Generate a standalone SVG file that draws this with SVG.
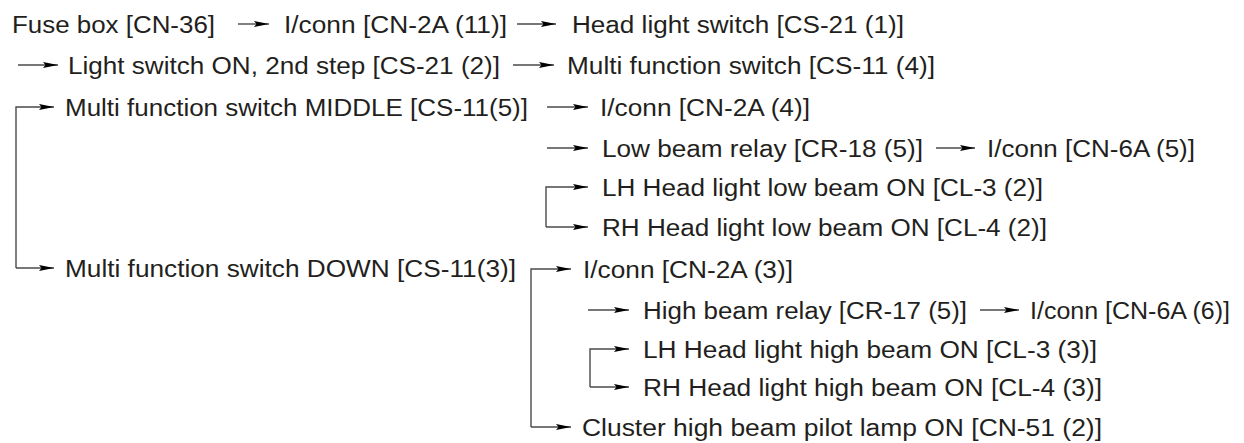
<svg xmlns="http://www.w3.org/2000/svg" width="1244" height="443" viewBox="0 0 1244 443">
<style>
text{font-family:"Liberation Sans",Arial,sans-serif;font-size:23.5px;fill:#231f20}
.c{fill:none;stroke:#4a4a4a;stroke-width:1.4}
</style>
<defs>
<marker id="ah" markerUnits="userSpaceOnUse" markerWidth="16" markerHeight="8" refX="15" refY="4" orient="auto">
<path d="M0,0.9 L15,4 L0,7.1 L2.5,4 z" fill="#000"/>
</marker>
</defs>
<rect width="1244" height="443" fill="#fff"/>
<g id="connectors">
<path class="c" d="M238,24 H269" marker-end="url(#ah)"/>
<path class="c" d="M517,24 H556" marker-end="url(#ah)"/>
<path class="c" d="M18,65 H58" marker-end="url(#ah)"/>
<path class="c" d="M513,65 H554" marker-end="url(#ah)"/>
<path class="c" d="M16,268 V107 H54" marker-end="url(#ah)"/>
<path class="c" d="M16,268 H54" marker-end="url(#ah)"/>
<path class="c" d="M547,107 H588" marker-end="url(#ah)"/>
<path class="c" d="M547,148 H588" marker-end="url(#ah)"/>
<path class="c" d="M936,148 H975" marker-end="url(#ah)"/>
<path class="c" d="M546,227 V187 H588" marker-end="url(#ah)"/>
<path class="c" d="M546,227 H588" marker-end="url(#ah)"/>
<path class="c" d="M531,427 V269 H571" marker-end="url(#ah)"/>
<path class="c" d="M531,427 H571" marker-end="url(#ah)"/>
<path class="c" d="M588,310 H629" marker-end="url(#ah)"/>
<path class="c" d="M980,310 H1019" marker-end="url(#ah)"/>
<path class="c" d="M590,387 V349 H629" marker-end="url(#ah)"/>
<path class="c" d="M590,387 H629" marker-end="url(#ah)"/>
</g>
<g id="n1"><text x="12" y="33" textLength="203" lengthAdjust="spacingAndGlyphs">Fuse box [CN-36]</text></g>
<g id="n2"><text x="284" y="33" textLength="223" lengthAdjust="spacingAndGlyphs">I/conn [CN-2A (11)]</text></g>
<g id="n3"><text x="572" y="33" textLength="332" lengthAdjust="spacingAndGlyphs">Head light switch [CS-21 (1)]</text></g>
<g id="n4"><text x="68" y="74" textLength="432" lengthAdjust="spacingAndGlyphs">Light switch ON, 2nd step [CS-21 (2)]</text></g>
<g id="n5"><text x="567" y="74" textLength="368" lengthAdjust="spacingAndGlyphs">Multi function switch [CS-11 (4)]</text></g>
<g id="n6"><text x="65" y="116" textLength="463" lengthAdjust="spacingAndGlyphs">Multi function switch MIDDLE [CS-11(5)]</text></g>
<g id="n7"><text x="600" y="116" textLength="210" lengthAdjust="spacingAndGlyphs">I/conn [CN-2A (4)]</text></g>
<g id="n8"><text x="602" y="157" textLength="321" lengthAdjust="spacingAndGlyphs">Low beam relay [CR-18 (5)]</text></g>
<g id="n9"><text x="987" y="157" textLength="208" lengthAdjust="spacingAndGlyphs">I/conn [CN-6A (5)]</text></g>
<g id="n10"><text x="602" y="196" textLength="441" lengthAdjust="spacingAndGlyphs">LH Head light low beam ON [CL-3 (2)]</text></g>
<g id="n11"><text x="602" y="236" textLength="445" lengthAdjust="spacingAndGlyphs">RH Head light low beam ON [CL-4 (2)]</text></g>
<g id="n12"><text x="65" y="277" textLength="451" lengthAdjust="spacingAndGlyphs">Multi function switch DOWN [CS-11(3)]</text></g>
<g id="n13"><text x="583" y="278" textLength="210" lengthAdjust="spacingAndGlyphs">I/conn [CN-2A (3)]</text></g>
<g id="n14"><text x="643" y="319" textLength="324" lengthAdjust="spacingAndGlyphs">High beam relay [CR-17 (5)]</text></g>
<g id="n15"><text x="1030" y="319" textLength="200" lengthAdjust="spacingAndGlyphs">I/conn [CN-6A (6)]</text></g>
<g id="n16"><text x="643" y="358" textLength="454" lengthAdjust="spacingAndGlyphs">LH Head light high beam ON [CL-3 (3)]</text></g>
<g id="n17"><text x="643" y="396" textLength="459" lengthAdjust="spacingAndGlyphs">RH Head light high beam ON [CL-4 (3)]</text></g>
<g id="n18"><text x="582" y="436" textLength="520" lengthAdjust="spacingAndGlyphs">Cluster high beam pilot lamp ON [CN-51 (2)]</text></g>
</svg>
